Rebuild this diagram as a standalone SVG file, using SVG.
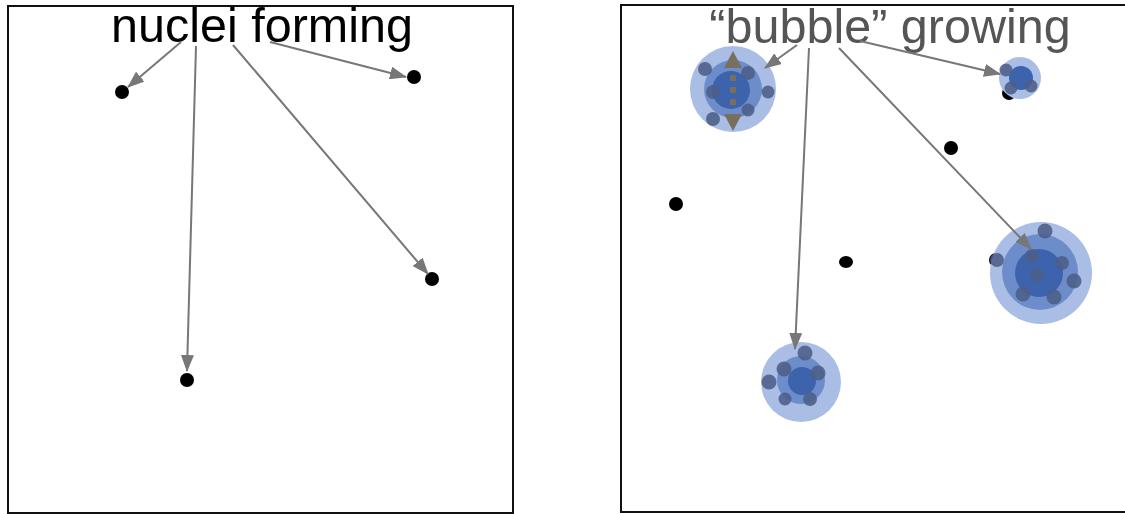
<svg xmlns="http://www.w3.org/2000/svg" width="1125" height="514" viewBox="0 0 1125 514">
  <style>
    .frame { fill: #fff; stroke: #111; stroke-width: 2; }
    .title { font-family: "Liberation Sans", Arial, sans-serif; font-size: 48.5px; text-anchor: middle; }
    .nucleus { fill: #000; }
    .conn { stroke: #777; stroke-width: 2; fill: none; marker-end: url(#head); }
    .outer { fill: #a9bde5; }
    .mid { fill: #6d8dca; }
    .core { fill: #3d63ad; }
    .seed { fill: #4c5e89; opacity: 0.88; }
    .grow { fill: #7a6e5e; }
  </style>
  <defs>
    <marker id="head" viewBox="0 0 17 13" refX="16" refY="6.5" markerWidth="17" markerHeight="13" markerUnits="userSpaceOnUse" orient="auto">
      <path d="M0,0 L17,6.5 L0,13 Z" fill="#777"/>
    </marker>
  </defs>

  <!-- left panel -->
  <rect class="frame" x="8" y="6" width="505" height="507"/>
  <!-- right panel -->
  <rect class="frame" x="621" y="5" width="510" height="507"/>

  <!-- bubbles -->
  <g id="bubble-a">
    <circle class="outer" cx="733" cy="89" r="43"/>
    <circle class="mid" cx="733" cy="89" r="29"/>
    <circle class="core" cx="731" cy="90" r="19"/>
    <circle class="seed" cx="705" cy="69" r="7"/>
    <circle class="seed" cx="748" cy="73" r="7"/>
    <circle class="seed" cx="768" cy="92" r="6.5"/>
    <circle class="seed" cx="748" cy="110" r="6.5"/>
    <circle class="seed" cx="713" cy="119" r="7"/>
    <circle class="seed" cx="713" cy="92" r="7"/>
    <!-- dashed double-headed growth arrow -->
    <path class="grow" d="M733,51 L742,68 L724,68 Z"/>
    <rect class="grow" x="730" y="75" width="6" height="6"/>
    <rect class="grow" x="730" y="87" width="6" height="6"/>
    <rect class="grow" x="730" y="99" width="6" height="6"/>
    <path class="grow" d="M733,131 L742,114 L724,114 Z"/>
  </g>

  <g id="bubble-b">
    <circle class="nucleus" cx="1009" cy="93" r="7"/>
    <circle class="outer" cx="1020" cy="78" r="21"/>
    <circle class="core" cx="1021" cy="78" r="12"/>
    <circle class="seed" cx="1006" cy="70" r="6.5"/>
    <circle class="seed" cx="1011" cy="88" r="6.5"/>
    <circle class="seed" cx="1031" cy="86" r="6.5"/>
  </g>

  <g id="bubble-c">
    <circle class="nucleus" cx="996" cy="260" r="7"/>
    <circle class="outer" cx="1041" cy="273" r="51"/>
    <circle class="mid" cx="1040" cy="272" r="38"/>
    <circle class="core" cx="1039" cy="273" r="24"/>
    <circle class="seed" cx="1037" cy="275" r="7" opacity="0.4"/>
    <circle class="seed" cx="1045" cy="231" r="7.5"/>
    <circle class="seed" cx="1032" cy="256" r="7"/>
    <circle class="seed" cx="1062" cy="263" r="7"/>
    <circle class="seed" cx="1074" cy="281" r="7.5"/>
    <circle class="seed" cx="1054" cy="297" r="7.5"/>
    <circle class="seed" cx="1023" cy="294" r="7.5"/>
    <circle class="seed" cx="997" cy="260" r="7"/>
  </g>

  <g id="bubble-d">
    <circle class="outer" cx="801" cy="382" r="40"/>
    <circle class="mid" cx="801" cy="380" r="24"/>
    <circle class="core" cx="802" cy="381" r="14"/>
    <circle class="seed" cx="805" cy="353" r="7.5"/>
    <circle class="seed" cx="784" cy="369" r="7.5"/>
    <circle class="seed" cx="818" cy="373" r="7.5"/>
    <circle class="seed" cx="769" cy="382" r="7.5"/>
    <circle class="seed" cx="785" cy="399" r="6.5"/>
    <circle class="seed" cx="810" cy="399" r="7"/>
  </g>

  <!-- nuclei -->
  <g id="nuclei-left">
    <circle class="nucleus" cx="122" cy="92" r="7"/>
    <circle class="nucleus" cx="414" cy="77" r="7"/>
    <circle class="nucleus" cx="432" cy="279" r="7"/>
    <circle class="nucleus" cx="187" cy="380" r="7"/>
  </g>
  <g id="nuclei-right">
    <circle class="nucleus" cx="676" cy="204" r="7"/>
    <circle class="nucleus" cx="951" cy="148" r="7"/>
    <ellipse class="nucleus" cx="846" cy="262" rx="7" ry="6"/>
  </g>

  <!-- titles -->
  <g id="title-left">
    <text class="title" x="262" y="42" fill="#000">nuclei forming</text>
  </g>
  <g id="title-right">
    <text class="title" x="890" y="43" fill="#555">“bubble” growing</text>
  </g>

  <!-- connectors -->
  <g id="connectors">
    <line class="conn" x1="181" y1="42" x2="128" y2="87"/>
    <line class="conn" x1="196" y1="46" x2="187" y2="371"/>
    <line class="conn" x1="233" y1="45" x2="428" y2="274"/>
    <line class="conn" x1="270" y1="42" x2="406" y2="77"/>
    <line class="conn" x1="797" y1="45" x2="765" y2="68"/>
    <line class="conn" x1="809" y1="48" x2="795" y2="349"/>
    <line class="conn" x1="839" y1="48" x2="1031" y2="249"/>
    <line class="conn" x1="860" y1="41" x2="1000" y2="74"/>
  </g>
</svg>
